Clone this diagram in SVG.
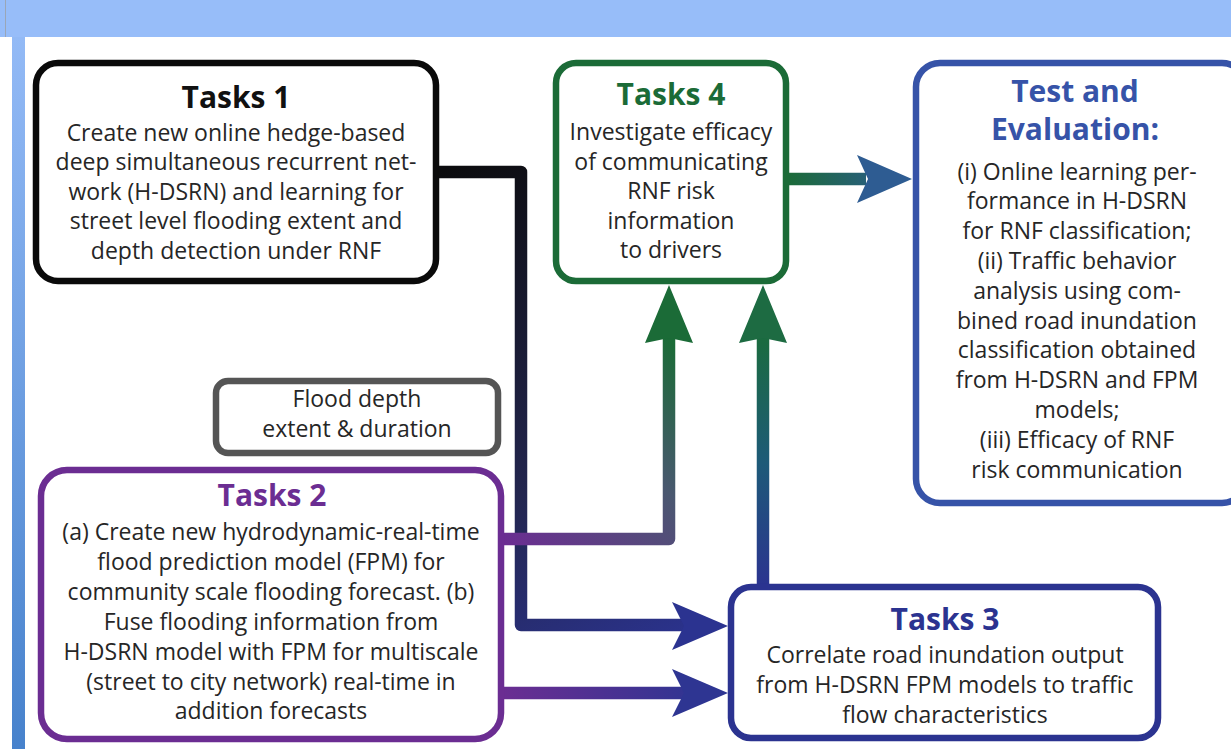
<svg xmlns="http://www.w3.org/2000/svg" width="1231" height="749" viewBox="0 0 1231 749">
<defs>
<linearGradient id="strip" x1="0" y1="37" x2="0" y2="749" gradientUnits="userSpaceOnUse">
<stop offset="0" stop-color="#93baf6"/><stop offset="1" stop-color="#4782cc"/>
</linearGradient>
<linearGradient id="g1" x1="440" y1="172" x2="700" y2="640" gradientUnits="userSpaceOnUse">
<stop offset="0" stop-color="#0c0c0e"/><stop offset="0.6" stop-color="#23264f"/><stop offset="1" stop-color="#2b3390"/>
</linearGradient>
<linearGradient id="g2" x1="501" y1="539" x2="669" y2="340" gradientUnits="userSpaceOnUse">
<stop offset="0" stop-color="#6b2d92"/><stop offset="0.55" stop-color="#4a5870"/><stop offset="1" stop-color="#1b6b37"/>
</linearGradient>
<linearGradient id="g3" x1="501" y1="0" x2="700" y2="0" gradientUnits="userSpaceOnUse">
<stop offset="0" stop-color="#6b2d92"/><stop offset="1" stop-color="#2e3592"/>
</linearGradient>
<linearGradient id="g4" x1="0" y1="587" x2="0" y2="340" gradientUnits="userSpaceOnUse">
<stop offset="0" stop-color="#2b3390"/><stop offset="0.5" stop-color="#1d5a78"/><stop offset="1" stop-color="#1b6b40"/>
</linearGradient>
<linearGradient id="g5" x1="786" y1="0" x2="912" y2="0" gradientUnits="userSpaceOnUse">
<stop offset="0" stop-color="#1b6b37"/><stop offset="1" stop-color="#2f5a9a"/>
</linearGradient>
<style>
.box{fill:#fff;stroke-width:6.5}
.t{font-family:"Open Sans","Noto Sans","Liberation Sans",sans-serif;text-anchor:middle}
.b{font-size:23px;fill:#262626}
.h{font-size:30px;font-weight:bold}
.c{fill:none;stroke-width:12.5;stroke-linejoin:round}
</style>
</defs>
<rect x="0" y="0" width="1231" height="749" fill="#ffffff"/>
<rect x="0" y="0" width="1231" height="37" fill="#97bdf9"/>
<rect x="12" y="37" width="13" height="712" fill="url(#strip)"/>
<line x1="5.5" y1="0" x2="5.5" y2="37" stroke="#9aa6b8" stroke-width="1"/>

<g id="connectors">
<path class="c" d="M436,172 H521 V625 H684" stroke="url(#g1)"/>
<polygon points="728,626 672,602 684,626 672,650" fill="#2b3390"/>
<path class="c" d="M501,539 H669 V338" stroke="url(#g2)"/>
<polygon points="669,285 645,343 669,338 693,343" fill="#1b6b37"/>
<path class="c" d="M501,693 H684" stroke="url(#g3)"/>
<polygon points="728,693 672,669 684,693 672,717" fill="#2e3592"/>
<path class="c" d="M763,587 V338" stroke="url(#g4)"/>
<polygon points="763,285 739,343 763,338 787,343" fill="#1d6b42"/>
<path class="c" d="M786,179 H866" stroke="url(#g5)"/>
<polygon points="912,179 857,155 868,179 857,203" fill="#2e5c92"/>
</g>

<g id="tasks1">
<rect class="box" x="36" y="63" width="400" height="218" rx="22" stroke="#0a0a0a"/>
<text class="t h" x="236" y="108" fill="#111">Tasks 1</text>
<text class="t b" x="236" y="141">Create new online hedge-based</text>
<text class="t b" x="236" y="170">deep simultaneous recurrent net-</text>
<text class="t b" x="236" y="200">work (H-DSRN) and learning for</text>
<text class="t b" x="236" y="229">street level flooding extent and</text>
<text class="t b" x="236" y="259">depth detection under RNF</text>
</g>

<g id="tasks4">
<rect class="box" x="556" y="63" width="230" height="218" rx="20" stroke="#1b6b37"/>
<text class="t h" x="671" y="105" fill="#1b6b37">Tasks 4</text>
<text class="t b" x="671" y="140">Investigate efficacy</text>
<text class="t b" x="671" y="170">of communicating</text>
<text class="t b" x="671" y="199">RNF risk</text>
<text class="t b" x="671" y="229">information</text>
<text class="t b" x="671" y="258">to drivers</text>
</g>

<g id="test">
<rect class="box" x="916" y="63" width="330" height="440" rx="24" stroke="#3653a8"/>
<text class="t h" x="1075" y="102" fill="#3653a8">Test and</text>
<text class="t h" x="1075" y="140" fill="#3653a8">Evaluation:</text>
<text class="t b" x="1077" y="180">(i) Online learning per-</text>
<text class="t b" x="1077" y="209">formance in H-DSRN</text>
<text class="t b" x="1077" y="239">for RNF classification;</text>
<text class="t b" x="1077" y="269">(ii) Traffic behavior</text>
<text class="t b" x="1077" y="299">analysis using com-</text>
<text class="t b" x="1077" y="329">bined road inundation</text>
<text class="t b" x="1077" y="358">classification obtained</text>
<text class="t b" x="1077" y="388">from H-DSRN and FPM</text>
<text class="t b" x="1077" y="418">models;</text>
<text class="t b" x="1077" y="448">(iii) Efficacy of RNF</text>
<text class="t b" x="1077" y="478">risk communication</text>
</g>

<g id="flood">
<rect class="box" x="216" y="381" width="282" height="72" rx="12" stroke="#555555" stroke-width="6"/>
<text class="t b" x="357" y="407">Flood depth</text>
<text class="t b" x="357" y="437">extent &amp; duration</text>
</g>

<g id="tasks2">
<rect class="box" x="41" y="470" width="460" height="269" rx="26" stroke="#6b2d92"/>
<text class="t h" x="272" y="506" fill="#6b2d92">Tasks 2</text>
<text class="t b" x="271" y="540">(a) Create new hydrodynamic-real-time</text>
<text class="t b" x="271" y="570">flood prediction model (FPM) for</text>
<text class="t b" x="271" y="600">community scale flooding forecast. (b)</text>
<text class="t b" x="271" y="630">Fuse flooding information from</text>
<text class="t b" x="271" y="660">H-DSRN model with FPM for multiscale</text>
<text class="t b" x="271" y="690">(street to city network) real-time in</text>
<text class="t b" x="271" y="719">addition forecasts</text>
</g>

<g id="tasks3">
<rect class="box" x="731" y="587" width="427" height="151" rx="20" stroke="#2b3390"/>
<text class="t h" x="945" y="630" fill="#2b3390">Tasks 3</text>
<text class="t b" x="945" y="663">Correlate road inundation output</text>
<text class="t b" x="945" y="693">from H-DSRN FPM models to traffic</text>
<text class="t b" x="945" y="723">flow characteristics</text>
</g>
</svg>
